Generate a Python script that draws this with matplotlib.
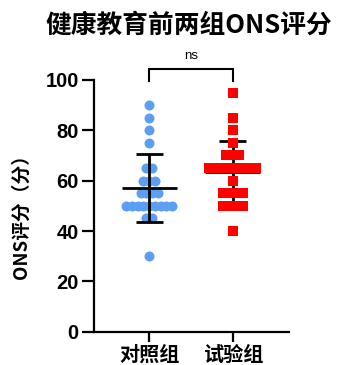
import matplotlib
matplotlib.use("Agg")
import matplotlib.pyplot as plt
import numpy as np

plt.rcParams["font.family"] = ["Liberation Sans", "Noto Sans CJK SC", "DejaVu Sans"]

# scores by group: value -> number of subjects
groups = ["对照组", "试验组"]
control_scores = [90, 85, 80, 75, 65, 60, 55, 50, 45, 30]
control_counts = [1, 1, 1, 1, 2, 3, 4, 9, 2, 1]
trial_scores = [95, 85, 80, 75, 70, 65, 60, 55, 50, 40]
trial_counts = [1, 1, 1, 1, 3, 8, 1, 4, 4, 1]

title = "健康教育前两组ONS评分"
ylabel = "ONS评分（分）"
yticks = [0, 20, 40, 60, 80, 100]

CJK = ["Noto Sans CJK SC", "DejaVu Sans"]


def swarm(center, scores, counts, step):
    xs, ys = [], []
    for v, n in zip(scores, counts):
        for i in range(n):
            xs.append(center + (i - (n - 1) / 2) * step)
            ys.append(v)
    return np.array(xs), np.array(ys)


fig = plt.figure(figsize=(3.41, 3.65), dpi=100)
ax = fig.add_axes([0.2757, 0.0912, 0.848 - 0.2757, 0.781 - 0.0912])

styles = [
    dict(marker="o", color="#5C9EF3", ms=7.2, step=0.068, zorder=2, bar_z=3),
    dict(marker="s", color="#FF0000", ms=6.5, step=0.080, zorder=3, bar_z=2),
]
data = [(control_scores, control_counts), (trial_scores, trial_counts)]

for i, ((scores, counts), st) in enumerate(zip(data, styles)):
    xs, ys = swarm(i, scores, counts, st["step"])
    ax.plot(xs, ys, ls="none", marker=st["marker"], color=st["color"],
            ms=st["ms"], mew=0, zorder=st["zorder"], clip_on=False)
    m, sd = ys.mean(), ys.std(ddof=1)
    ax.plot([i - 0.33, i + 0.33], [m, m], color="black", lw=2.0,
            zorder=st["bar_z"], solid_capstyle="butt")
    ax.plot([i, i], [m - sd, m + sd], color="black", lw=2.0,
            zorder=st["bar_z"], solid_capstyle="butt")
    for y in (m - sd, m + sd):
        ax.plot([i - 0.16, i + 0.16], [y, y], color="black", lw=2.0,
                zorder=st["bar_z"], solid_capstyle="butt")

# significance bracket
ax.plot([0, 0, 1, 1], [99.7, 104.2, 104.2, 99.7], color="black", lw=1.5,
        clip_on=False, solid_joinstyle="miter")
ax.text(0.5, 107.3, "ns", ha="center", va="bottom", fontsize=9.5)

ax.set_xlim(-0.66, 1.675)
ax.set_ylim(0, 100)
ax.set_yticks(yticks)
ax.set_yticklabels([str(t) for t in yticks], fontsize=14.5, fontweight="bold")
ax.set_xticks([0, 1])
ax.set_xticklabels(groups, fontsize=14.5, fontweight="bold", family=CJK)

for side in ("top", "right"):
    ax.spines[side].set_visible(False)
for side in ("left", "bottom"):
    ax.spines[side].set_linewidth(1.6)
ax.tick_params(axis="y", length=8.5, width=1.6, pad=2.5)
ax.tick_params(axis="x", length=7.5, width=1.6, pad=1.5)

fig.text(0.553, 0.932, title, ha="center", va="center", fontsize=18.5,
         fontweight="bold", family=CJK)
fig.text(0.062, 0.42, ylabel, ha="center", va="center", rotation=90,
         fontsize=13.5, fontweight="bold", family=CJK)

fig.savefig("out.png", dpi=100)
